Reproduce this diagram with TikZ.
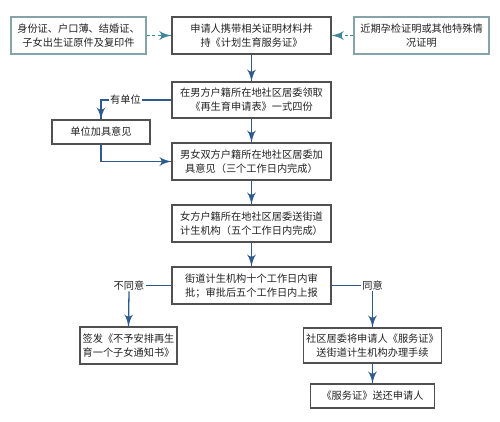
\documentclass[tikz,border=0pt]{standalone}
\usepackage{fontspec}
\newfontfamily\cjk{Noto Sans CJK SC}
\usepackage{tikz}
\usetikzlibrary{arrows}
\usetikzlibrary{decorations.markings}
\definecolor{flowblue}{HTML}{2E5A8E}
\definecolor{hintteal}{HTML}{3F8797}
\definecolor{sidegray}{HTML}{86A3AA}
\definecolor{boxgray}{HTML}{505050}
\definecolor{txtgray}{HTML}{222222}
\tikzset{flow/.style = {draw = flowblue, line width = 1.3pt,
                        decoration={markings,
                                    mark=at position 1 with {\arrow[scale=1.8, flowblue]{latex'}}},
                        postaction={decorate}}}
\tikzset{hint/.style = {draw = hintteal, line width = 1.5pt, dash pattern = on 3pt off 2.5pt,
                        decoration={markings,
                                    mark=at position 1 with {\arrow[scale=1.7, hintteal, solid]{latex'}}},
                        postaction={decorate}}}
\tikzset{box/.style = {draw = boxgray, line width = 1.1pt, align = center, inner sep = 1pt,
                       text = txtgray, font = \cjk\fontsize{10.2}{14}\selectfont}}
\tikzset{sidebox/.style = {box, draw = sidegray}}
\tikzset{lbl/.style = {inner sep = 1pt, text = txtgray, font = \cjk\fontsize{10.2}{12}\selectfont}}

\begin{document}
\begin{tikzpicture}[x = 1pt, y = -1pt]
    \useasboundingbox (0, 0) rectangle (500, 422);

    \node [sidebox, minimum width = 135, minimum height = 37] (idcard) at (78.5, 35.5)
        {身份证、户口薄、结婚证、\\子女出生证原件及复印件};
    \node [box, minimum width = 159, minimum height = 37] (apply) at (251.5, 35.5)
        {申请人携带相关证明材料并\\持《计划生育服务证》};
    \node [sidebox, minimum width = 135, minimum height = 37] (checkup) at (421.5, 35.5)
        {近期孕检证明或其他特殊情\\况证明};

    \node [box, minimum width = 159, minimum height = 36] (form) at (251.5, 100)
        {在男方户籍所在地社区居委领取\\《再生育申请表》一式四份};
    \node [box, minimum width = 98, minimum height = 24] (unit) at (101, 132) {单位加具意见};
    \node [box, minimum width = 159, minimum height = 37] (both) at (251.5, 161.5)
        {男女双方户籍所在地社区居委加\\具意见（三个工作日内完成）};
    \node [box, minimum width = 159, minimum height = 37] (wife) at (251.5, 223.5)
        {女方户籍所在地社区居委送街道\\计生机构（五个工作日内完成）};
    \node [box, minimum width = 159, minimum height = 37] (street) at (251.5, 285.5)
        {街道计生机构十个工作日内审\\批；审批后五个工作日内上报};

    \node [box, minimum width = 97, minimum height = 37] (refuse) at (128.5, 345.5)
        {签发《不予安排再生\\育一个子女通知书》};
    \node [box, minimum width = 138, minimum height = 35] (handle) at (372.5, 345.5)
        {社区居委将申请人《服务证》\\送街道计生机构办理手续};
    \node [box, minimum width = 124, minimum height = 24] (back) at (372.5, 396)
        {《服务证》送还申请人};

    \node [lbl] (hasunit) at (125.5, 100) {有单位};
    \node [lbl] (nolbl) at (129, 285.5) {不同意};
    \node [lbl] (oklbl) at (372.5, 285.5) {同意};

    % materials
    \draw [hint] (idcard) -- (apply);
    \draw [hint] (checkup) -- (apply);

    % main line
    \draw [flow] (apply) -- (form);
    \draw [flow] (form) -- (both);
    \draw [flow] (both) -- (wife);
    \draw [flow] (wife) -- (street);

    % unit branch
    \draw [draw = flowblue, line width = 1.3pt] (form.west) -- (hasunit.east);
    \draw [flow] (hasunit.west) -| (unit.north);
    \draw [flow] (unit.south) |- (both.west);

    % decision
    \draw [draw = flowblue, line width = 1.3pt] (street.west) -- (nolbl.east);
    \draw [flow] (nolbl.south) -- (refuse.north);
    \draw [draw = flowblue, line width = 1.3pt] (street.east) -- (oklbl.west);
    \draw [flow] (oklbl.south) -- (handle.north);
    \draw [flow] (handle) -- (back);
\end{tikzpicture}
\end{document}
